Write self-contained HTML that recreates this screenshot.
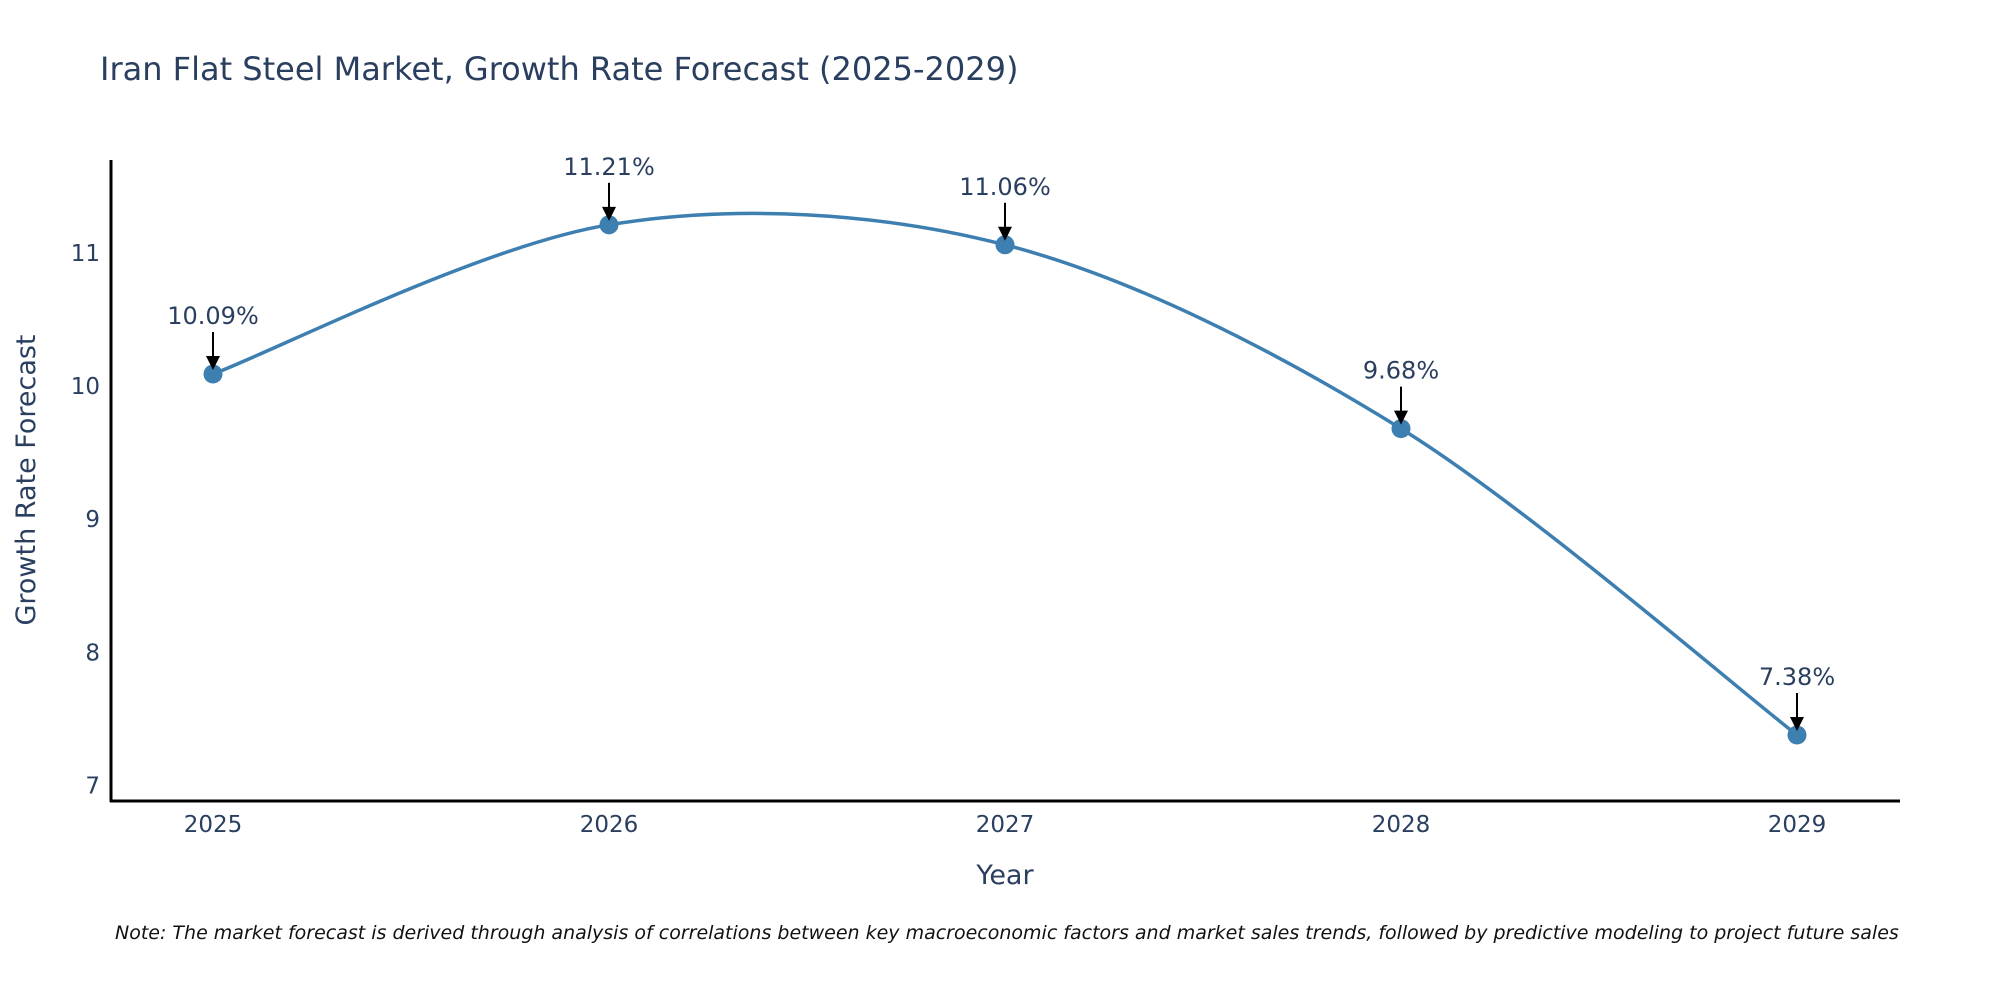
<!DOCTYPE html>
<html><head><meta charset="utf-8"><style>
body{margin:0;background:#fff;}
svg{display:block;font-family:"DejaVu Sans","Liberation Sans",sans-serif;}
</style></head><body>
<svg id="chart" width="2000" height="1000" viewBox="0 0 2000 1000">
<text x="100" y="80" font-size="32" fill="#2a3f5f">Iran Flat Steel Market, Growth Rate Forecast (2025-2029)</text>
<g id="yticks"></g>
<g id="xticks"></g>
<line x1="111" y1="160" x2="111" y2="802" stroke="#000" stroke-width="3"/>
<line x1="110" y1="801" x2="1900" y2="801" stroke="#000" stroke-width="3"/>
<path id="line" fill="none" stroke="#3d7fb0" stroke-width="3.5"/>
<g id="points"></g>
<g id="annots"></g>
<text x="1005" y="884" font-size="27" fill="#2a3f5f" text-anchor="middle">Year</text>
<text transform="translate(35,480) rotate(-90)" font-size="27" fill="#2a3f5f" text-anchor="middle">Growth Rate Forecast</text>
<text x="115" y="939" font-size="19" font-style="italic" fill="#111">Note: The market forecast is derived through analysis of correlations between key macroeconomic factors and market sales trends, followed by predictive modeling to project future sales</text>
</svg>
<script>
const years = [2025, 2026, 2027, 2028, 2029];
const values = [10.09, 11.21, 11.06, 9.68, 7.38];
const labels = ["10.09%", "11.21%", "11.06%", "9.68%", "7.38%"];
const yTicks = [7, 8, 9, 10, 11];

const NS = "http://www.w3.org/2000/svg";
function xs(y){ return 213 + (y - 2025) * 396; }
function ys(v){ return 386 - (v - 10) * 133.2; }
function mk(tag, attrs, parent){ const e=document.createElementNS(NS,tag); for(const k in attrs) e.setAttribute(k,attrs[k]); parent.appendChild(e); return e; }

const yg=document.getElementById('yticks');
yTicks.forEach(t=>{
  const e=mk('text',{x:100,y:ys(t)+8,'font-size':23,fill:'#2a3f5f','text-anchor':'end'},yg);
  
  
  e.textContent=t;
});
const xg=document.getElementById('xticks');
years.forEach(y=>{
  const e=mk('text',{x:xs(y),y:832,'font-size':23,fill:'#2a3f5f','text-anchor':'middle'},xg);
  
  
  e.textContent=y;
});

const P=years.map((y,i)=>[xs(y),ys(values[i])]);
let d='M'+P[0][0]+','+P[0][1];
const s=0.16;
for(let i=0;i<P.length-1;i++){
  const p0=P[Math.max(0,i-1)],p1=P[i],p2=P[i+1],p3=P[Math.min(P.length-1,i+2)];
  const c1=[p1[0]+(p2[0]-p0[0])*s,p1[1]+(p2[1]-p0[1])*s];
  const c2=[p2[0]-(p3[0]-p1[0])*s,p2[1]-(p3[1]-p1[1])*s];
  d+=` C${c1[0]},${c1[1]} ${c2[0]},${c2[1]} ${p2[0]},${p2[1]}`;
}
document.getElementById('line').setAttribute('d',d);

const pg=document.getElementById('points'), ag=document.getElementById('annots');
P.forEach((p,i)=>{
  const c=mk('circle',{cx:p[0],cy:p[1],r:9.5,fill:'#3d7fb0'},pg);
  
  
  const l=mk('line',{x1:p[0],y1:p[1]-42,x2:p[0],y2:p[1]-16,stroke:'#000','stroke-width':2},ag);
  
  
  const h=mk('polygon',{points:`${p[0]-7},${p[1]-18} ${p[0]+7},${p[1]-18} ${p[0]},${p[1]-4}`,fill:'#000'},ag);
  
  
  const t=mk('text',{x:p[0],y:p[1]-50,'font-size':24,fill:'#2a3f5f','text-anchor':'middle'},ag);
  
  
  t.textContent=labels[i];
});
</script>
</body></html>
